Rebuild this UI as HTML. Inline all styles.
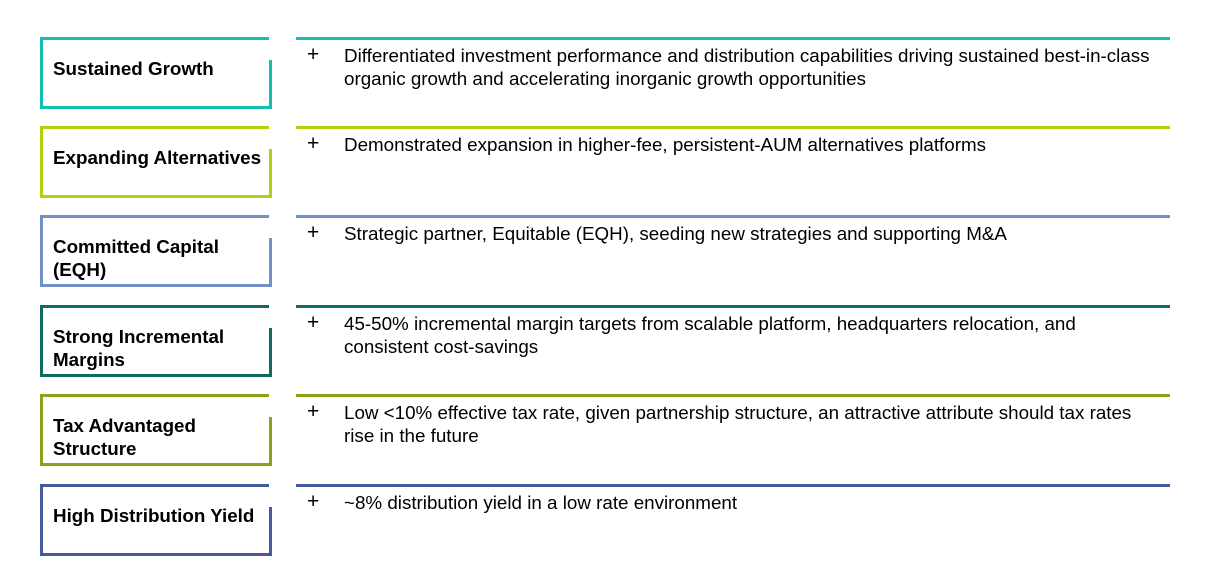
<!DOCTYPE html>
<html><head><meta charset="utf-8"><style>
body{margin:0;width:1207px;height:565px;background:#fff;position:relative;overflow:hidden;font-family:"Liberation Sans",Arial,sans-serif;color:#000}
.box{position:absolute;left:40px;width:226px;height:66px;border:3px solid;border-right:none}
.box .rs{position:absolute;right:-3px;top:20px;bottom:-3px;width:3px}
.box .lab{position:absolute;left:10px;top:17px;font-weight:bold;font-size:18.8px;line-height:23px;white-space:nowrap}
.line{position:absolute;left:296px;width:874px;height:3px}
.plus{position:absolute;left:307px;font-size:21px;line-height:23px}
.txt{position:absolute;left:344px;width:812px;font-size:18.8px;line-height:23px}
</style></head><body>

<div class="box" style="top:37px;border-color:#14bfb0"><div class="rs" style="background:#14bfb0"></div><div class="lab">Sustained Growth</div></div>
<div class="line" style="top:37px;background:#14bfb0"></div>
<div class="plus" style="top:43px">+</div>
<div class="txt" style="top:44px">Differentiated investment performance and distribution capabilities driving sustained best-in-class organic growth and accelerating inorganic growth opportunities</div>

<div class="box" style="top:126px;border-color:#b4cf0b"><div class="rs" style="background:#b4cf0b"></div><div class="lab">Expanding Alternatives</div></div>
<div class="line" style="top:126px;background:#b4cf0b"></div>
<div class="plus" style="top:132px">+</div>
<div class="txt" style="top:133px">Demonstrated expansion in higher-fee, persistent-AUM alternatives platforms</div>

<div class="box" style="top:215px;border-color:#7090c8"><div class="rs" style="background:#7090c8"></div><div class="lab">Committed Capital<br>(EQH)</div></div>
<div class="line" style="top:215px;background:#7090c8"></div>
<div class="plus" style="top:221px">+</div>
<div class="txt" style="top:222px">Strategic partner, Equitable (EQH), seeding new strategies and supporting M&amp;A</div>

<div class="box" style="top:305px;border-color:#0e6b60"><div class="rs" style="background:#0e6b60"></div><div class="lab">Strong Incremental<br>Margins</div></div>
<div class="line" style="top:305px;background:#0e6b60"></div>
<div class="plus" style="top:311px">+</div>
<div class="txt" style="top:312px">45-50% incremental margin targets from scalable platform, headquarters relocation, and<br>consistent cost-savings</div>

<div class="box" style="top:394px;border-color:#8aa21c"><div class="rs" style="background:#8aa21c"></div><div class="lab">Tax Advantaged<br>Structure</div></div>
<div class="line" style="top:394px;background:#8aa21c"></div>
<div class="plus" style="top:400px">+</div>
<div class="txt" style="top:401px">Low &lt;10% effective tax rate, given partnership structure, an attractive attribute should tax rates<br>rise in the future</div>

<div class="box" style="top:484px;border-color:#465b9b"><div class="rs" style="background:#465b9b"></div><div class="lab">High Distribution Yield</div></div>
<div class="line" style="top:484px;background:#465b9b"></div>
<div class="plus" style="top:490px">+</div>
<div class="txt" style="top:491px">~8% distribution yield in a low rate environment</div>

</body></html>
